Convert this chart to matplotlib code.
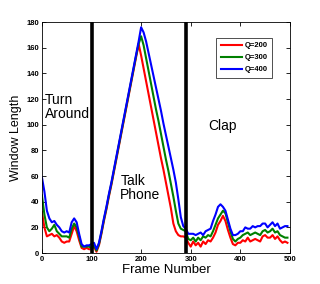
import matplotlib
matplotlib.use('Agg')
import matplotlib.pyplot as plt

plt.rcParams['font.family'] = ['Liberation Sans', 'DejaVu Sans']

# frame numbers sampled every 5 frames
frames = list(range(0, 500, 5))

q200 = [32, 20, 13, 14, 15, 13, 14, 12, 9, 8, 9, 9, 15, 21, 17, 10, 4, 3, 4, 3,
        3, 5, 1, 6, 15, 25, 34, 44, 53, 63, 73, 83, 93, 103, 113, 123, 133, 143, 153, 163,
        154, 144, 134, 124, 114, 104, 94, 84, 74, 65, 55, 45, 35, 23, 17, 14, 13, 13, 12, 8,
        5, 9, 6, 8, 5, 9, 7, 10, 9, 12, 16, 22, 25, 29, 25, 18, 12, 7, 6, 8,
        8, 10, 9, 12, 9, 10, 11, 10, 9, 13, 14, 12, 12, 14, 11, 13, 10, 8, 9, 8]
q300 = [45, 30, 20, 17, 19, 22, 17, 15, 13, 13, 13, 12, 19, 23, 20, 13, 5, 5, 5, 5,
        4, 6, 2, 7, 16, 26, 35, 45, 54, 64, 74, 84, 94, 104, 114, 124, 134, 144, 154, 163,
        169, 162, 152, 142, 132, 122, 112, 103, 93, 83, 73, 64, 54, 44, 33, 23, 19, 18, 17, 11,
        10, 12, 9, 12, 10, 13, 12, 14, 13, 17, 22, 27, 30, 33, 31, 24, 17, 11, 9, 11,
        12, 14, 15, 16, 14, 15, 16, 15, 14, 17, 18, 16, 17, 19, 16, 17, 14, 13, 12, 12]
q400 = [59, 48, 33, 27, 24, 25, 22, 20, 17, 16, 17, 16, 24, 27, 24, 15, 7, 5, 6, 6,
        7, 8, 3, 8, 17, 27, 36, 46, 55, 65, 75, 85, 95, 105, 115, 125, 135, 145, 155, 165,
        176, 172, 165, 156, 147, 138, 129, 120, 111, 101, 92, 83, 74, 65, 55, 42, 28, 21, 19, 15,
        15, 15, 14, 15, 16, 14, 17, 18, 19, 25, 30, 36, 38, 36, 33, 26, 19, 14, 14, 15,
        17, 17, 20, 19, 19, 21, 20, 21, 21, 23, 23, 20, 22, 24, 21, 23, 19, 20, 21, 21]

labels = ['Q=200', 'Q=300', 'Q=400']
colors = ['#ff0000', '#008000', '#0000ff']
boundaries = [100, 291]

fig = plt.figure(figsize=(3.2, 2.84), dpi=100)
ax = fig.add_axes([0.131, 0.109, 0.775, 0.813])

for ys, lab, c in zip([q200, q300, q400], labels, colors):
    ax.plot(frames, ys, color=c, lw=1.5, label=lab)

for b in boundaries:
    ax.axvline(b, color='black', lw=2.6)

ax.set_xlim(0, 500)
ax.set_ylim(0, 180)
ax.set_xticks(range(0, 501, 100))
ax.set_yticks(range(0, 181, 20))
ax.tick_params(direction='in', top=True, right=True, length=3, width=0.6, labelsize=5.5, pad=2)
for t in ax.get_xticklabels() + ax.get_yticklabels():
    t.set_fontweight('bold')
for s in ax.spines.values():
    s.set_linewidth(0.6)

ax.set_xlabel('Frame Number', fontsize=9.5, labelpad=1)
ax.set_ylabel('Window Length', fontsize=9, labelpad=3)

ax.text(6, 105, 'Turn\nAround', fontsize=10, linespacing=1.0)
ax.text(158, 42, 'Talk\nPhone', fontsize=10, linespacing=1.0)
ax.text(336, 96, 'Clap', fontsize=10)

leg = ax.legend(loc='upper right', bbox_to_anchor=(0.945, 0.95), fontsize=5.5, frameon=True,
                fancybox=False, edgecolor='black', handlelength=2.8, borderpad=0.6,
                labelspacing=0.6, handletextpad=0.3)
leg.get_frame().set_linewidth(0.6)
for t in leg.get_texts():
    t.set_fontweight('bold')

fig.savefig('out.png', dpi=100)
